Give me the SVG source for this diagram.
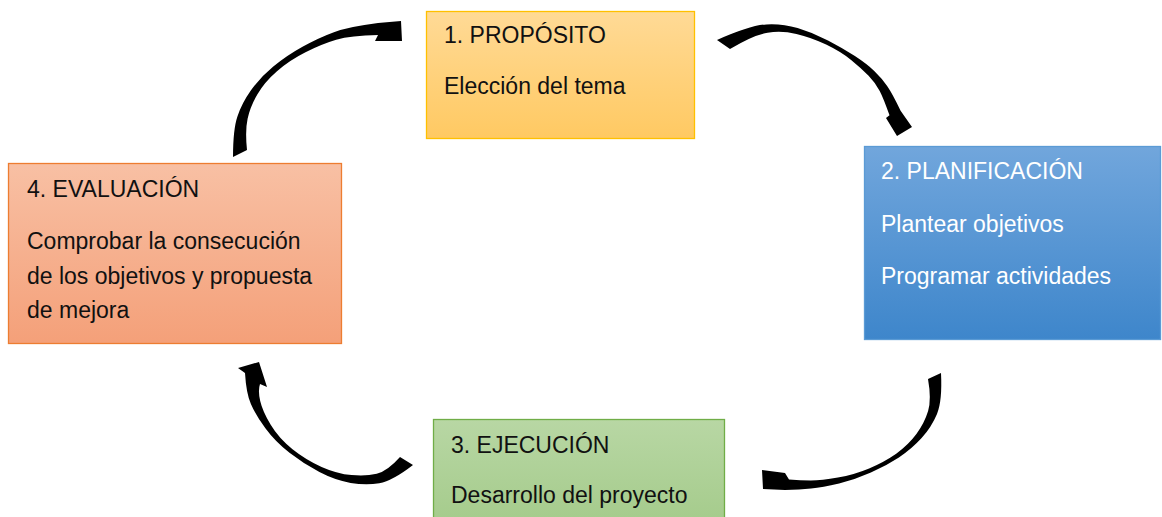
<svg xmlns="http://www.w3.org/2000/svg" width="1162" height="517" viewBox="0 0 1162 517">
<defs>
<linearGradient id="gY" x1="0" y1="0" x2="0" y2="1"><stop offset="0" stop-color="#FFDA96"/><stop offset="1" stop-color="#FFC962"/></linearGradient>
<linearGradient id="gB" x1="0" y1="0" x2="0" y2="1"><stop offset="0" stop-color="#71A6DC"/><stop offset="1" stop-color="#3E86CB"/></linearGradient>
<linearGradient id="gO" x1="0" y1="0" x2="0" y2="1"><stop offset="0" stop-color="#F8C0A4"/><stop offset="1" stop-color="#F4A079"/></linearGradient>
<linearGradient id="gG" x1="0" y1="0" x2="0" y2="1"><stop offset="0" stop-color="#B8D7A4"/><stop offset="1" stop-color="#A3CA89"/></linearGradient>
</defs>
<style>
text{font-family:"Liberation Sans",Arial,sans-serif;font-size:23px;fill:#111}
.w{fill:#fff}
.arrow{fill:#000;stroke:none}
</style>
<rect width="1162" height="517" fill="#fff"/>
<g id="connectors">
<path class="arrow" d="M717,40 Q750.5,25.2 766.4,24.4 Q782.3,23.5 797.6,28.1 Q812.9,32.7 828,40.5 Q843,48.3 854.9,56.1 Q866.8,63.9 874.5,71.2 Q882.1,78.5 887.3,86.2 Q892.5,93.8 900.6,110.7 L912,127 L897,136 L886,118 L889.5,115.3 Q883.5,98.2 879.7,90.9 Q875.9,83.5 868.6,75.8 Q861.2,68.1 851.1,59.9 Q841,51.7 826.1,44.5 Q811.1,37.3 796.4,33.9 Q781.7,30.5 767.6,32.7 Q753.5,34.8 730,49 Z"/>
<path class="arrow" d="M941,373 Q942.4,400.8 937,413.9 Q931.5,427 921.6,438 Q911.7,448.9 898.9,457.4 Q886,465.8 870.9,472.6 Q855.8,479.4 839.1,483.5 Q822.4,487.5 811.1,488.5 Q799.8,489.5 785,490 L763,489 L762,470 L785,473 L789,479.5 Q800.2,480.5 810.9,480.5 Q821.6,480.5 837.9,477.6 Q854.2,474.6 869.1,468.4 Q884,462.2 896.2,453.7 Q908.3,445.1 916.4,434.1 Q924.5,423 928.1,411.1 Q931.6,399.2 928,379 Z"/>
<path class="arrow" d="M413,465 Q392.5,480.9 379.3,483.2 Q366.1,485.5 350.6,482.9 Q335,480.3 319.4,472.1 Q303.8,463.9 289.5,452.8 Q275.2,441.7 265.4,428.3 Q255.5,414.8 250.9,404.1 Q246.2,393.3 245,373 L238,368 L259,362 L267,387 L260,384 Q257.8,390.7 260.2,401 Q262.5,411.2 270.7,424.8 Q278.8,438.3 292.5,449.2 Q306.2,460.1 321.6,466.9 Q337,473.7 351.5,475.1 Q365.9,476.5 376.7,473.8 Q387.5,471.1 400,457 Z"/>
<path class="arrow" d="M233,157 Q233,129.3 237.5,116.2 Q241.9,103.1 250.8,90.5 Q259.6,77.9 273,66.8 Q286.4,55.7 302.5,46.8 Q318.6,37.8 333.9,32.2 Q349.1,26.6 378,23 L401,21 L402,41 L375,41 L378,35 Q350.9,35.4 336.2,39.8 Q321.4,44.2 305.5,52.3 Q289.6,60.3 277,71.2 Q264.4,82.1 257.3,94.5 Q250.1,106.9 247.6,118.8 Q245,130.7 247,150 Z"/>
</g>
<g id="node1">
<rect x="426.5" y="11.5" width="268" height="127" fill="url(#gY)" stroke="#FFC000" stroke-width="1.3"/>
<text x="444" y="43">1. PROPÓSITO</text>
<text x="444" y="94">Elección del tema</text>
</g>
<g id="node2">
<rect x="864.5" y="146.5" width="296" height="193" fill="url(#gB)" stroke="#5B9BD5" stroke-width="1.3"/>
<text class="w" x="881" y="179">2. PLANIFICACIÓN</text>
<text class="w" x="881" y="232">Plantear objetivos</text>
<text class="w" x="881" y="284">Programar actividades</text>
</g>
<g id="node3">
<rect x="433.5" y="419.5" width="291" height="115" fill="url(#gG)" stroke="#70AD47" stroke-width="1.3"/>
<text x="451" y="453">3. EJECUCIÓN</text>
<text x="451" y="503">Desarrollo del proyecto</text>
</g>
<g id="node4">
<rect x="8.5" y="163.5" width="333" height="180" fill="url(#gO)" stroke="#ED7D31" stroke-width="1.3"/>
<text x="27" y="197">4. EVALUACIÓN</text>
<text x="27" y="249">Comprobar la consecución</text>
<text x="27" y="284">de los objetivos y propuesta</text>
<text x="27" y="318">de mejora</text>
</g>
</svg>
